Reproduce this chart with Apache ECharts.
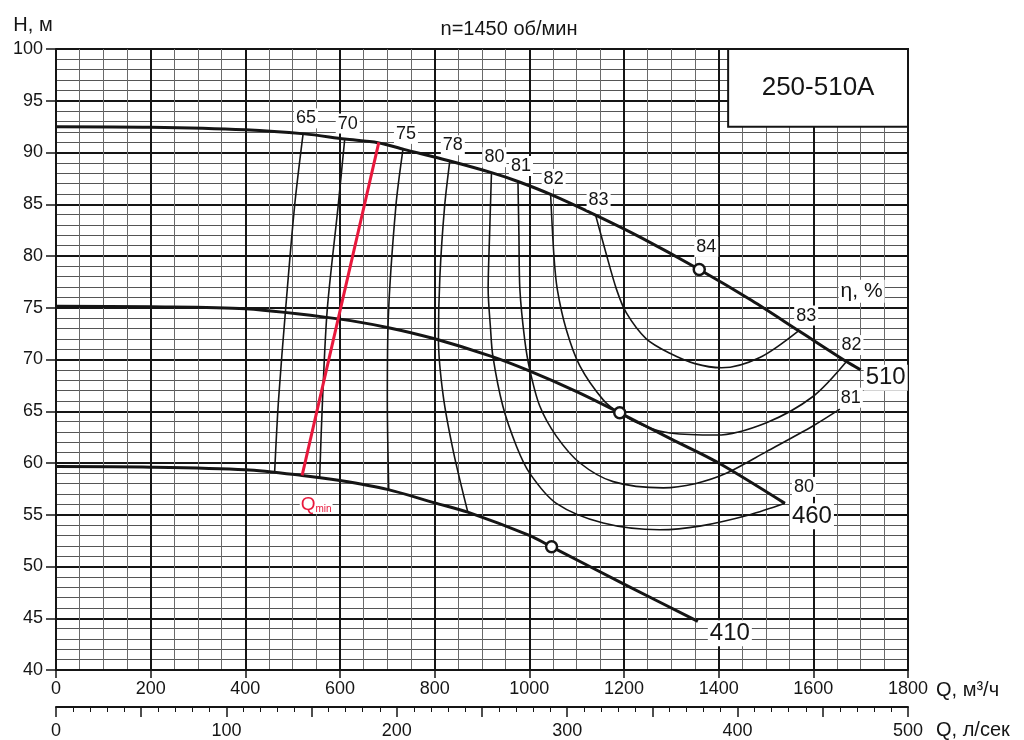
<!DOCTYPE html>
<html>
<head>
    <meta charset="utf-8" />
    <script src="https://cdn.jsdelivr.net/npm/echarts@6.0.0/dist/echarts.min.js"></script>
    <style>
        body { margin: 0px; overflow: hidden; background: #fff; }
        #main { width: 1024px; height: 740px; }
    </style>
</head>
<body>
<div id="main"></div>
<script type="text/javascript">
    // напорные характеристики (Q м3/ч, H м) для трёх диаметров колеса
    var curve510 = [[0, 92.5], [200, 92.45], [400, 92.2], [525, 91.8], [610, 91.3], [680, 90.95], [735, 90.3], [830, 89.2],
        [920, 88.05], [976, 87.2], [1045, 85.95], [1140, 83.95], [1235, 81.8], [1359, 78.7], [1470, 75.7], [1570, 72.75],
        [1670, 69.8], [1700, 69.0]];
    var curve460 = [[0, 75.15], [200, 75.1], [400, 74.9], [600, 73.9], [700, 73.1], [800, 72.0], [920, 70.3], [1000, 68.9],
        [1100, 66.9], [1191, 64.85], [1300, 62.3], [1400, 60.0], [1540, 56.1]];
    var curve410 = [[0, 59.65], [200, 59.6], [400, 59.35], [520, 58.8], [600, 58.3], [700, 57.45], [800, 56.15], [870, 55.25],
        [1000, 53.0], [1047, 51.9], [1200, 48.3], [1356, 44.7]];
    var curveNames = ['510', '460', '410'];

    // линии КПД
    var eta65 = [[522, 91.8], [504, 84.8], [485, 74.8], [470, 66], [462, 59.2]];
    var eta70 = [[610, 91.3], [596, 84.8], [573, 74.8], [563, 66], [557, 58.6]];
    var eta75 = [[733, 90.3], [718, 84.8], [702, 74], [700, 66], [703, 57.4]];
    var eta78 = [[832, 89.2], [821, 84.8], [811, 78], [808, 72], [818, 66.5], [840, 61], [870, 55.25]];
    var eta80 = [[920, 88.05], [916, 82], [913, 76.8], [918, 73], [923, 70.3], [944, 65.5], [973, 61.6], [1001, 59.0],
        [1057, 56.1], [1156, 54.2], [1275, 53.55], [1360, 53.9], [1466, 55.0], [1540, 56.1]];
    var eta81 = [[976, 87.2], [978, 82], [980, 76.8], [990, 72], [1001, 69.0], [1022, 65.5], [1057, 62.6], [1107, 60.0],
        [1177, 58.2], [1283, 57.6], [1350, 58.0], [1416, 59.0], [1501, 61.1], [1600, 63.6], [1656, 65.2]];
    var eta82 = [[1045, 85.95], [1052, 80], [1059, 76.8], [1078, 72.9], [1107, 69.35], [1156, 66.1], [1191, 64.8],
        [1247, 63.5], [1297, 62.9], [1395, 62.7], [1501, 63.9], [1600, 66.45], [1670, 69.8]];
    var eta83 = [[1140, 83.95], [1160, 80.6], [1184, 76.8], [1205, 74.5], [1247, 72.0], [1297, 70.6], [1350, 69.6],
        [1406, 69.2], [1487, 70.2], [1568, 72.75]];
    var etaNames = ['65', '70', '75', '78', '80', '81', '82', '83'];

    var qminLine = [[682, 90.97], [520, 58.8]];
    var dutyPoints = [[1359, 78.7], [1191, 64.85], [1047, 51.9]];
    var dutyEta = '84';
    var etaTitlePos = [1702, 76.6];
    var modelBox = [[1420, 100], [1800, 92.5]];
    var modelName = '250-510A';

    var font = 'Liberation Sans, Arial, sans-serif';
    var ink = '#151515';

    var etaCurves = [eta65, eta70, eta75, eta78, eta80, eta81, eta82, eta83];
    var headCurves = [curve510, curve460, curve410];

    // сдвиги подписей (px)
    var endLabelOffset = { '80': [19, -1], '81': [11, 4], '82': [5, -1], '83': [8, 0] };
    var curveLabelOffset = [[25, 8], [27, 13], [32, 12]];

    function textSeries(items, label) {
        return {
            type: 'scatter',
            symbolSize: 1,
            itemStyle: { color: 'rgba(0,0,0,0)', opacity: 1 },
            z: 10,
            silent: true,
            label: Object.assign({
                show: true,
                formatter: '{b}',
                fontFamily: font,
                color: ink,
                opacity: 1,
                textBorderWidth: 0,
                backgroundColor: '#fff',
                padding: [1, 2]
            }, label),
            data: items
        };
    }

    function plain(v) { return String(v); }

    var series = [];
    etaCurves.forEach(function (c) {
        series.push({ type: 'line', data: c, smooth: 0.3, showSymbol: false, lineStyle: { color: ink, width: 1.6 }, z: 3 });
    });
    headCurves.forEach(function (c, i) {
        var s = { type: 'line', data: c, smooth: 0.3, showSymbol: false, lineStyle: { color: ink, width: 3 }, z: 4 };
        if (i === 0) {
            s.markArea = {
                silent: true,
                itemStyle: { color: '#fff', borderColor: ink, borderWidth: 2 },
                label: { show: true, position: 'inside', fontFamily: font, fontSize: 26, color: ink },
                data: [[{ coord: modelBox[0], name: modelName }, { coord: modelBox[1] }]]
            };
        }
        series.push(s);
    });
    series.push({ type: 'line', data: qminLine, showSymbol: false, lineStyle: { color: '#e8183c', width: 3 }, z: 5 });
    series.push({
        type: 'scatter', data: dutyPoints, symbol: 'circle', symbolSize: 11, z: 8, silent: true,
        itemStyle: { color: '#fff', borderColor: ink, borderWidth: 2.5, opacity: 1 }
    });

    // подписи КПД у верхней кривой
    series.push(textSeries(etaCurves.map(function (c, i) {
        return { name: etaNames[i], value: c[0] };
    }), { position: 'top', distance: 5, offset: [3, 0], fontSize: 18 }));
    // подписи КПД на правых концах
    series.push(textSeries(etaCurves.map(function (c, i) {
        return endLabelOffset[etaNames[i]] ? {
            name: etaNames[i], value: c[c.length - 1],
            label: { offset: endLabelOffset[etaNames[i]] }
        } : null;
    }).filter(Boolean), { position: 'top', distance: 5, fontSize: 18 }));
    series.push(textSeries([{ name: dutyEta, value: dutyPoints[0], label: { offset: [7, -7] } }],
        { position: 'top', distance: 5, fontSize: 18 }));
    series.push(textSeries([{ name: 'η, %', value: etaTitlePos }], { position: 'inside', fontSize: 21 }));
    series.push(textSeries(headCurves.map(function (c, i) {
        return { name: curveNames[i], value: c[c.length - 1], label: { offset: curveLabelOffset[i] } };
    }), { position: 'inside', fontSize: 24 }));
    series.push(textSeries([{ name: 'Qmin', value: qminLine[1] }], {
        position: 'inside', offset: [14, 29], padding: [0, 1],
        formatter: '{a|Q}{b|min}',
        rich: {
            a: { fontFamily: font, fontSize: 19, color: '#e8183c' },
            b: { fontFamily: font, fontSize: 10, color: '#e8183c', verticalAlign: 'bottom', padding: [6, 0, 0, 0] }
        }
    }));

    var chart = echarts.init(document.getElementById('main'));
    chart.setOption({
        animation: false,
        backgroundColor: '#fff',
        textStyle: { fontFamily: font },
        title: {
            text: 'n=1450 об/мин',
            left: 504, top: 14, textAlign: 'center',
            textStyle: { fontFamily: font, fontSize: 20, fontWeight: 'normal', color: ink }
        },
        grid: { left: 56, right: 116, top: 49, bottom: 70 },
        xAxis: [{
            type: 'value', min: 0, max: 1800, interval: 200,
            name: 'Q, м³/ч', nameLocation: 'end', nameGap: 28,
            nameTextStyle: { fontFamily: font, fontSize: 20, color: ink, verticalAlign: 'top', padding: [10, 0, 0, 0] },
            axisLine: { show: true, lineStyle: { color: ink, width: 2 } },
            axisTick: { show: true, length: 8, lineStyle: { color: ink, width: 1.5 } },
            axisLabel: { fontFamily: font, fontSize: 18, color: ink, margin: 10, formatter: plain },
            splitLine: { show: true, lineStyle: { color: ink, width: 2 } },
            minorTick: { show: false, splitNumber: 4 },
            minorSplitLine: { show: true, lineStyle: { color: '#6a6a6a', width: 1 } }
        }, {
            type: 'value', min: 0, max: 500, interval: 50, position: 'bottom', offset: 37,
            name: 'Q, л/сек', nameLocation: 'end', nameGap: 28,
            nameTextStyle: { fontFamily: font, fontSize: 20, color: ink, verticalAlign: 'top', padding: [13, 0, 0, 0] },
            axisLine: { show: true, onZero: false, lineStyle: { color: ink, width: 2 } },
            axisTick: { show: true, length: 10, lineStyle: { color: ink, width: 1.5 } },
            minorTick: { show: true, splitNumber: 5, length: 5, lineStyle: { color: ink, width: 1 } },
            axisLabel: {
                fontFamily: font, fontSize: 18, color: ink, margin: 15,
                formatter: function (v) { return v % 100 === 0 ? String(v) : ''; }
            },
            splitLine: { show: false }
        }],
        yAxis: {
            type: 'value', min: 40, max: 100, interval: 5,
            name: 'H, м', nameLocation: 'end', nameGap: 14,
            nameTextStyle: { fontFamily: font, fontSize: 20, color: ink, align: 'center', padding: [0, 46, 0, 0] },
            axisLine: { show: true, lineStyle: { color: ink, width: 2 } },
            axisTick: { show: true, length: 10, lineStyle: { color: ink, width: 1.5 } },
            axisLabel: { fontFamily: font, fontSize: 18, color: ink, margin: 13, formatter: plain },
            splitLine: { show: true, lineStyle: { color: ink, width: 2 } },
            minorSplitLine: { show: true, lineStyle: { color: '#555', width: 1 } },
            minorTick: { show: false, splitNumber: 5 }
        },
        series: series
    });
</script>
</body>
</html>
